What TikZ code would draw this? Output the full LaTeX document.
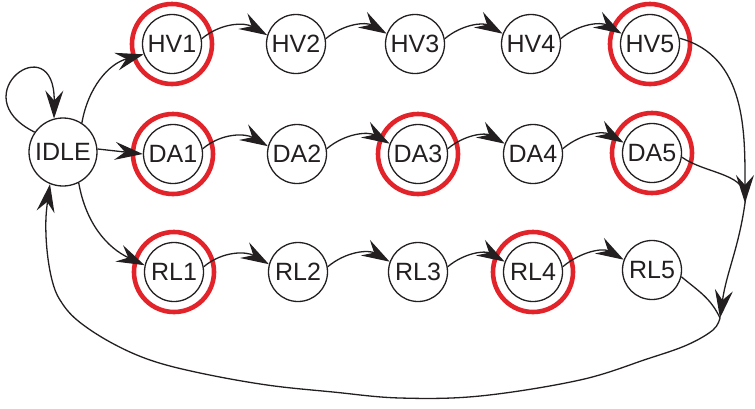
\documentclass[tikz,border=0pt]{standalone}
\usepackage{fontspec}
\setmainfont{Liberation Sans}
\usetikzlibrary{arrows.meta}
\definecolor{ink}{HTML}{231F20}
\definecolor{ringred}{HTML}{E2232A}
\begin{document}
\begin{tikzpicture}[x=1pt,y=1pt,
  state/.style={circle,draw=ink,line width=1.3pt,minimum size=59pt,inner sep=0pt,
    font=\fontsize{25}{30}\selectfont,text=ink},
  idlestate/.style={state,minimum size=68pt},
  ring/.style={circle,draw=ringred,line width=4.6pt,minimum size=80pt,inner sep=0pt},
  arr/.style={draw=ink,line width=1.3pt,-{Stealth[length=28pt,width=18pt,inset=10pt]}},
  ln/.style={draw=ink,line width=1.3pt},
  rowedge/.style={arr,out=40,in=150},
]
\useasboundingbox (0,0) rectangle (755,-408);

% rings (drawn first, edges on top)
\node[ring] (hv1r) at (172,-44) {};
\node[ring] (hv5r) at (650,-44) {};
\node[ring] (da1r) at (173,-154) {};
\node[ring] (da3r) at (418,-154) {};
\node[ring] (da5r) at (652,-153) {};
\node[ring] (rl1r) at (174,-272) {};
\node[ring] (rl4r) at (533,-272) {};

% states
\node[idlestate] (idle) at (63,-152) {IDLE};
\node[state] (hv1) at (172,-44) {HV1};
\node[state] (hv2) at (296,-44) {HV2};
\node[state] (hv3) at (415,-44) {HV3};
\node[state] (hv4) at (531,-44) {HV4};
\node[state] (hv5) at (650,-44) {HV5};
\node[state] (da1) at (173,-154) {DA1};
\node[state] (da2) at (297,-154) {DA2};
\node[state] (da3) at (418,-154) {DA3};
\node[state] (da4) at (533,-154) {DA4};
\node[state] (da5) at (652,-153) {DA5};
\node[state] (rl1) at (174,-272) {RL1};
\node[state] (rl2) at (298,-272) {RL2};
\node[state] (rl3) at (418,-272) {RL3};
\node[state] (rl4) at (533,-272) {RL4};
\node[state] (rl5) at (652,-270) {RL5};

\coordinate (J1) at (745,-203);
\coordinate (J2) at (720,-318);

% self loop
\draw[arr] (idle.145) .. controls (-40,-95) and (55,-25) .. (idle.105);

% from IDLE
\draw[arr] (idle.57) to[out=80,in=195] (hv1.200);
\draw[arr] (idle.5) -- (da1.180);
\draw[arr] (idle.-63) to[out=-80,in=155] (rl1.167);

% rows
\draw[rowedge] (hv1.10) to (hv2.163);
\draw[rowedge] (hv2.10) to (hv3.160);
\draw[rowedge] (hv3.10) to (hv4.160);
\draw[rowedge] (hv4.10) to (hv5.160);
\draw[rowedge] (da1.10) to (da2.165);
\draw[rowedge] (da2.10) to (da3.160);
\draw[rowedge] (da3.10) to (da4.160);
\draw[rowedge] (da4.10) to (da5.160);
\draw[rowedge] (rl1.10) to (rl2.165);
\draw[rowedge] (rl2.10) to (rl3.160);
\draw[rowedge] (rl3.10) to (rl4.160);
\draw[rowedge] (rl4.10) to (rl5.160);

% return path
\draw[arr] (hv5.11) to[out=-15,in=90] (J1);
\draw[ln] (da5.-8) to[out=-35,in=80] (J1);
\draw[ln] (rl5.-13) to[out=-40,in=115] (J2);
\draw[arr] (J1) to[out=-98,in=82] (J2);
\draw[arr] plot[smooth,tension=0.6] coordinates {(J2) (713,-330) (687,-345) (647,-359)
  (580,-380) (480,-396) (400,-398) (333,-392) (267,-385) (200,-373) (150,-360)
  (110,-342) (77,-320) (60,-300) (52,-280) (47,-250) (46,-217) (idle.248)};
\end{tikzpicture}
\end{document}
